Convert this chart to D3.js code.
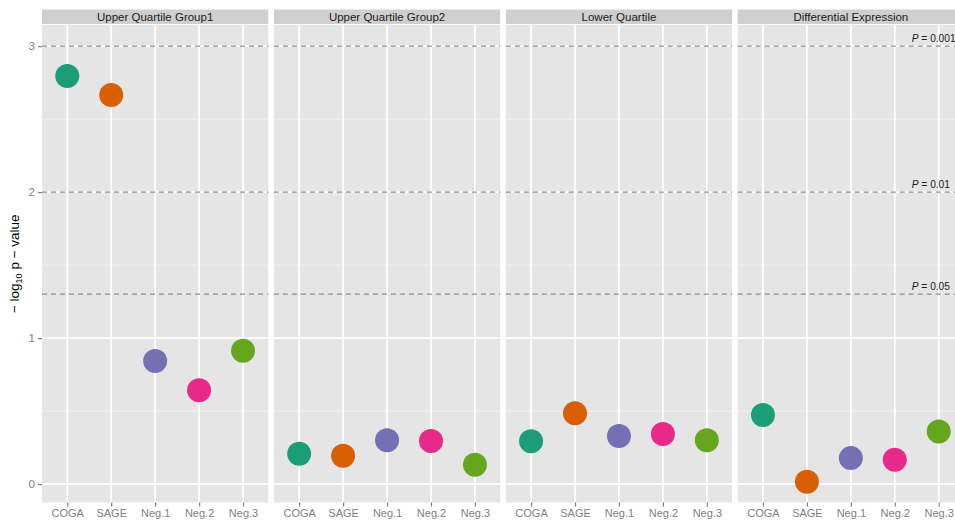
<!DOCTYPE html>
<html>
<head>
<meta charset="utf-8">
<script src="https://cdn.jsdelivr.net/npm/d3@7"></script>
<style>
  html, body { margin: 0; padding: 0; background: #fff; }
  svg { display: block; font-family: "Liberation Sans", Arial, sans-serif; }
</style>
</head>
<body>
<svg id="chart" width="955" height="525"></svg>
<script>
// Facets, groups and -log10 p-values
const panels = ["Upper Quartile Group1", "Upper Quartile Group2", "Lower Quartile", "Differential Expression"];
const groups = ["COGA", "SAGE", "Neg.1", "Neg.2", "Neg.3"];
const upperQ1 = [2.795, 2.666, 0.844, 0.643, 0.914];
const upperQ2 = [0.208, 0.194, 0.300, 0.295, 0.132];
const lowerQ  = [0.293, 0.485, 0.329, 0.343, 0.300];
const diffExp = [0.473, 0.016, 0.178, 0.167, 0.361];
const panelValues = [upperQ1, upperQ2, lowerQ, diffExp];
const yTicks = [0, 1, 2, 3];
const yMinor = [0.5, 1.5, 2.5];
const thresholds = [
  { p: 0.001, label: " = 0.001" },
  { p: 0.01,  label: " = 0.01" },
  { p: 0.05,  label: " = 0.05" }
];
const palette = ["#1B9E77", "#D95F02", "#7570B3", "#E7298A", "#66A61E"];

const svg = d3.select("#chart");
const panelLeft = 42, panelW = 226.3, panelGap = 5.6;
const stripTop = 9.5, stripH = 14.5;
const plotTop = 25, plotBottom = 502.5;

const y = d3.scaleLinear().domain([-0.126, 3.145]).range([plotBottom, plotTop]);
const color = d3.scaleOrdinal().domain(groups).range(palette);

panels.forEach((name, i) => {
  const x0 = panelLeft + i * (panelW + panelGap);
  const x = d3.scalePoint().domain(groups).range([x0, x0 + panelW]).padding(0.575);
  const g = svg.append("g");

  // strip
  g.append("rect").attr("x", x0).attr("y", stripTop).attr("width", panelW).attr("height", stripH)
    .attr("fill", "#CFCFCF");
  g.append("text").attr("x", x0 + panelW / 2).attr("y", stripTop + stripH / 2 + 4)
    .attr("text-anchor", "middle").attr("font-size", 11.5).attr("fill", "#1a1a1a").text(name);

  // panel background
  g.append("rect").attr("x", x0).attr("y", plotTop).attr("width", panelW).attr("height", plotBottom - plotTop)
    .attr("fill", "#E5E5E5");

  // minor grid
  g.selectAll(".minor").data(yMinor).join("line")
    .attr("x1", x0).attr("x2", x0 + panelW)
    .attr("y1", d => y(d)).attr("y2", d => y(d))
    .attr("stroke", "#F2F2F2").attr("stroke-width", 1);
  // major grid
  g.selectAll(".major").data(yTicks).join("line")
    .attr("x1", x0).attr("x2", x0 + panelW)
    .attr("y1", d => y(d)).attr("y2", d => y(d))
    .attr("stroke", "#FFFFFF").attr("stroke-width", 1.8);
  g.selectAll(".vgrid").data(groups).join("line")
    .attr("x1", d => x(d)).attr("x2", d => x(d))
    .attr("y1", plotTop).attr("y2", plotBottom)
    .attr("stroke", "#FFFFFF").attr("stroke-width", 1.8);

  // significance thresholds
  g.selectAll(".thr").data(thresholds).join("line")
    .attr("x1", x0).attr("x2", x0 + panelW)
    .attr("y1", d => y(-Math.log10(d.p))).attr("y2", d => y(-Math.log10(d.p)))
    .attr("stroke", "#8C8C8C").attr("stroke-width", 1.2).attr("stroke-dasharray", "5,4");

  // points
  g.selectAll("circle").data(groups.map((k, j) => ({ k, v: panelValues[i][j] }))).join("circle")
    .attr("cx", d => x(d.k)).attr("cy", d => y(d.v)).attr("r", 12)
    .attr("fill", d => color(d.k));

  // x axis
  const xa = svg.append("g").attr("transform", `translate(0,${plotBottom})`)
    .call(d3.axisBottom(x).tickSize(4).tickPadding(3));
  xa.select(".domain").remove();
  xa.selectAll(".tick line").attr("stroke", "#7F7F7F").attr("stroke-width", 1.2);
  xa.selectAll(".tick text").attr("fill", "#7F7F7F").attr("font-size", 11)
    .attr("font-family", "Liberation Sans, Arial, sans-serif");

  // threshold labels in last facet
  if (i === panels.length - 1) {
    const lx = x("Neg.3") - 27;
    thresholds.forEach(t => {
      const tx = g.append("text").attr("x", lx).attr("y", y(-Math.log10(t.p)) - 4.5)
        .attr("font-size", 10.2).attr("fill", "#1a1a1a");
      tx.append("tspan").attr("font-style", "italic").text("P");
      tx.append("tspan").text(t.label);
    });
  }
});

// y axis
const ya = svg.append("g").attr("transform", `translate(${panelLeft},0)`)
  .call(d3.axisLeft(y).tickValues(yTicks).tickFormat(d3.format("d")).tickSize(4).tickPadding(3));
ya.select(".domain").remove();
ya.selectAll(".tick line").attr("stroke", "#7F7F7F").attr("stroke-width", 1.2);
ya.selectAll(".tick text").attr("fill", "#7F7F7F").attr("font-size", 11.5)
  .attr("font-family", "Liberation Sans, Arial, sans-serif");

// y axis title
const title = svg.append("text")
  .attr("transform", `translate(19,${(plotTop + plotBottom) / 2}) rotate(-90)`)
  .attr("text-anchor", "middle").attr("font-size", 13.5).attr("fill", "#000");
title.append("tspan").text("\u2212 log");
title.append("tspan").attr("font-size", 9).attr("dy", 3).text("10");
title.append("tspan").attr("dy", -3).text(" p \u2212 value");
</script>
</body>
</html>
